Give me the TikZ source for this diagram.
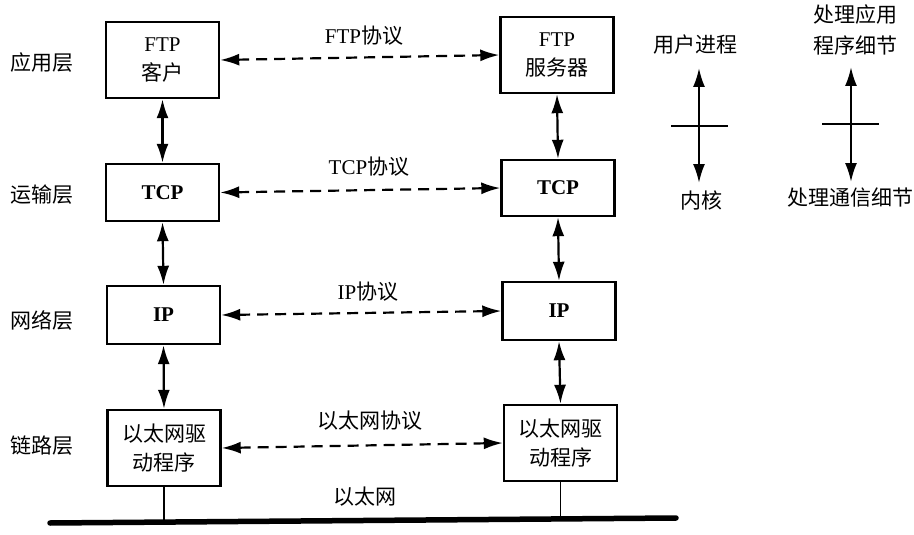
\documentclass[tikz,border=0pt]{standalone}
\usepackage{fontspec}
\setmainfont{Liberation Serif}
\newfontfamily\cjk{Noto Sans CJK SC}
\usetikzlibrary{arrows.meta}
\begin{document}
\begin{tikzpicture}[x=1pt,y=-1pt,
  layerbox/.style={draw,line width=2.4pt,minimum width=113pt,inner sep=0pt,align=center,font=\fontsize{21}{29}\selectfont},
  lbl/.style={inner sep=0pt,align=center,font=\fontsize{21}{31}\selectfont},
  biarrow/.style={line width=2.2pt,{Latex[length=19pt,width=12pt]}-{Latex[length=19pt,width=12pt]}},
  peer/.style={biarrow,dash pattern=on 11pt off 7pt}]
\useasboundingbox (0,0) rectangle (914,535);
% left column
\node[layerbox,minimum height=76pt] (lftp) at (162.5,60) {FTP\\{\cjk 客户}};
\node[layerbox,minimum height=57pt] (ltcp) at (162.5,192.5) {\textbf{TCP}};
\node[layerbox,minimum height=58pt] (lip) at (163.5,315) {\textbf{IP}};
\node[layerbox,minimum height=76pt] (leth) at (164,448) {{\cjk 以太网驱}\\{\cjk 动程序}};
% right column
\node[layerbox,minimum height=76pt] (rftp) at (557,55) {FTP\\{\cjk 服务器}};
\node[layerbox,minimum height=56pt] (rtcp) at (558,188) {\textbf{TCP}};
\node[layerbox,minimum height=58pt] (rip) at (559,311) {\textbf{IP}};
\node[layerbox,minimum height=76pt] (reth) at (560.5,443) {{\cjk 以太网驱}\\{\cjk 动程序}};
% layer labels
\node[lbl] (app) at (42,63) {\cjk 应用层};
\node[lbl] (trans) at (42,195) {\cjk 运输层};
\node[lbl] (net) at (42,320) {\cjk 网络层};
\node[lbl] (link) at (42,446) {\cjk 链路层};
% protocol labels
\node[lbl] (pftp) at (364,36) {FTP{\cjk 协议}};
\node[lbl] (ptcp) at (369,167) {TCP{\cjk 协议}};
\node[lbl] (pip) at (368,292) {IP{\cjk 协议}};
\node[lbl] (peth) at (370,421) {\cjk 以太网协议};
\node[lbl] (ether) at (365,497) {\cjk 以太网};
% vertical arrows
\draw[biarrow] (lftp.south) -- (ltcp.north);
\draw[biarrow] (ltcp.south) -- (lip.north);
\draw[biarrow] (lip.south) -- (leth.north);
\draw[biarrow] (rftp.south) -- (rtcp.north);
\draw[biarrow] (rtcp.south) -- (rip.north);
\draw[biarrow] (rip.south) -- (reth.north);
% peer arrows
\draw[peer] (lftp.east) -- (rftp.west);
\draw[peer] (ltcp.east) -- (rtcp.west);
\draw[peer] (lip.east) -- (rip.west);
\draw[peer] (leth.east) -- (reth.west);
% ethernet bus
\coordinate (busL) at (50,523);
\coordinate (busR) at (676,518);
\draw[line width=5.5pt,line cap=round] (busL) -- (busR);
\coordinate (tapL) at (164,522);
\coordinate (tapR) at (560.5,519);
\draw[line width=1.5pt] (leth.south) -- (tapL);
\draw[line width=1.5pt] (reth.south) -- (tapR);
% legend 1
\node[lbl] (user) at (695,45) {\cjk 用户进程};
\node[lbl] (kern) at (701,200) {\cjk 内核};
\coordinate (u1) at (699,68);
\coordinate (u2) at (699,183);
\draw[biarrow] (u1) -- (u2);
\coordinate (h1a) at (671,126);
\coordinate (h1b) at (728,126);
\draw[line width=2pt] (h1a) -- (h1b);
% legend 2
\node[lbl] (appd) at (855,30) {{\cjk 处理应用}\\{\cjk 程序细节}};
\node[lbl,anchor=west] (comd) at (787,198) {\cjk 处理通信细节};
\coordinate (a1) at (851,67);
\coordinate (a2) at (851,182);
\draw[biarrow] (a1) -- (a2);
\coordinate (h2a) at (822,124);
\coordinate (h2b) at (879,124);
\draw[line width=2pt] (h2a) -- (h2b);
\end{tikzpicture}
\end{document}
